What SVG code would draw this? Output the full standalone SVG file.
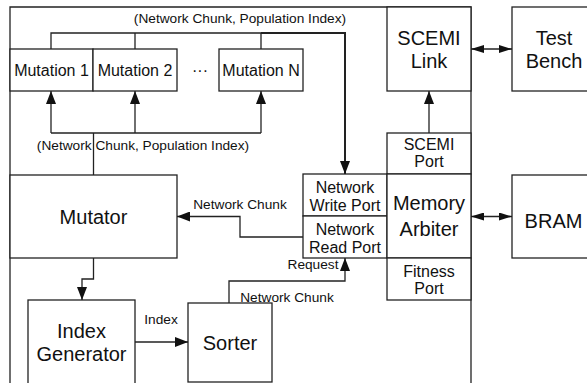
<svg xmlns="http://www.w3.org/2000/svg" width="587" height="383" viewBox="0 0 587 383">
<style>
.b{fill:#fff;stroke:#222;stroke-width:1.3}
.c{fill:none;stroke:#222;stroke-width:1.3}
.t{font-family:"Liberation Sans",Arial,sans-serif;fill:#111;text-anchor:middle}
.L{font-size:20px}
.M{font-size:16px}
.S{font-size:13.7px}
</style>
<defs>
<marker id="ah" markerWidth="13" markerHeight="10" refX="13" refY="5" orient="auto" markerUnits="userSpaceOnUse" viewBox="0 0 13 10"><path d="M0,0 L13,5 L0,10 Z" fill="#111"/></marker>
<marker id="ahs" markerWidth="13" markerHeight="8" refX="13" refY="4" orient="auto-start-reverse" markerUnits="userSpaceOnUse" viewBox="0 0 13 8"><path d="M0,0 L13,4 L0,8 Z" fill="#111"/></marker>
</defs>
<rect width="587" height="383" fill="#fff"/>
<g id="frame"><path class="c" d="M10,383 V7 H471 V383"/></g>
<g id="mutation1"><rect class="b" x="10" y="49" width="83" height="42"/><text class="t M" x="51.5" y="76">Mutation 1</text></g>
<g id="mutation2"><rect class="b" x="93" y="49" width="84" height="42"/><text class="t M" x="135" y="76">Mutation 2</text></g>
<g id="dots"><text class="t M" x="200" y="76">···</text></g>
<g id="mutationN"><rect class="b" x="219" y="49" width="84" height="42"/><text class="t M" x="261" y="76">Mutation N</text></g>
<g id="mutator"><rect class="b" x="10" y="175" width="167" height="83"/><text class="t L" x="93.5" y="224">Mutator</text></g>
<g id="indexgen"><rect class="b" x="28" y="300" width="107" height="90"/><text class="t L" x="81.5" y="338">Index</text><text class="t L" x="81.5" y="361">Generator</text></g>
<g id="sorter"><rect class="b" x="188" y="303" width="84" height="79"/><text class="t L" x="230" y="350">Sorter</text></g>
<g id="scemilink"><rect class="b" x="387" y="7" width="84" height="84"/><text class="t L" x="429" y="45">SCEMI</text><text class="t L" x="429" y="68">Link</text></g>
<g id="testbench"><rect class="b" x="512" y="7" width="84" height="84"/><text class="t L" x="554" y="45">Test</text><text class="t L" x="554" y="68">Bench</text></g>
<g id="scemiport"><rect class="b" x="387" y="133" width="84" height="41"/><text class="t M" x="429" y="150">SCEMI</text><text class="t M" x="429" y="167">Port</text></g>
<g id="writeport"><rect class="b" x="303" y="174" width="84" height="42"/><text class="t M" x="345" y="193">Network</text><text class="t M" x="345" y="211">Write Port</text></g>
<g id="readport"><rect class="b" x="303" y="216" width="84" height="42"/><text class="t M" x="345" y="235">Network</text><text class="t M" x="345" y="253">Read Port</text></g>
<g id="arbiter"><rect class="b" x="387" y="174" width="84" height="84"/><text class="t L" x="429" y="210">Memory</text><text class="t L" x="429" y="236">Arbiter</text></g>
<g id="fitnessport"><rect class="b" x="387" y="258" width="84" height="42"/><text class="t M" x="429" y="277">Fitness</text><text class="t M" x="429" y="294">Port</text></g>
<g id="bram"><rect class="b" x="512" y="175" width="84" height="83"/><text class="t L" x="553.5" y="228">BRAM</text></g>
<g id="connectors">
<path class="c" d="M51,49 V33 H261 M135,33 V49 M261,49 V33"/>
<path class="c" d="M261,33 H345 V174" style="stroke-width:2" marker-end="url(#ah)"/>
<text class="t S" x="240" y="23">(Network Chunk, Population Index)</text>
<path class="c" d="M51,133 H261"/>
<path class="c" d="M51,133 V91" marker-end="url(#ah)"/>
<path class="c" d="M135,133 V91" marker-end="url(#ah)"/>
<path class="c" d="M261,133 V91" marker-end="url(#ah)"/>
<path class="c" d="M93.5,133 V175"/>
<text class="t S" x="143" y="150">(Network Chunk, Population Index)</text>
<path class="c" d="M303,237 H240 V216.5 H177" marker-end="url(#ah)"/>
<text class="t S" x="240" y="209">Network Chunk</text>
<path class="c" d="M93.5,258 V279 H82 V300" marker-end="url(#ah)"/>
<path class="c" d="M135,342 H188" marker-end="url(#ah)"/>
<text class="t S" x="161" y="324">Index</text>
<path class="c" d="M229,303 V281 H345 V258" marker-end="url(#ah)"/>
<text class="t S" x="313" y="269">Request</text>
<text class="t S" x="287" y="302">Network Chunk</text>
<path class="c" d="M429,133 V91" marker-end="url(#ah)"/>
<path class="c" d="M471,49 H512" marker-start="url(#ahs)" marker-end="url(#ahs)"/>
<path class="c" d="M471,216.5 H512" marker-start="url(#ahs)" marker-end="url(#ahs)"/>
</g>
</svg>
